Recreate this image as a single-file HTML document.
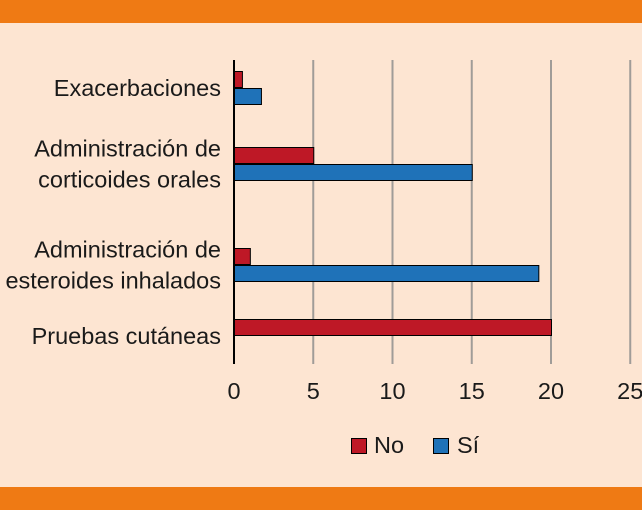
<!DOCTYPE html>
<html><head><meta charset="utf-8"><style>
body{margin:0;width:642px;height:510px;overflow:hidden;background:#fde5d2;font-family:"Liberation Sans",sans-serif;}
svg{display:block}
</style></head><body>
<svg width="642" height="510">
<rect x="0" y="0" width="642" height="23" fill="#ef7a14"/>
<rect x="0" y="487" width="642" height="23" fill="#ef7a14"/>
<g id="grid"></g><g id="bars"></g><g id="labels"></g>
<line x1="234" y1="60" x2="234" y2="364" stroke="#000" stroke-width="2"/>
<g>
<rect x="351.5" y="438.5" width="15" height="15" fill="#be1826" stroke="#000"/>
<text x="374" y="453" font-size="23.5" fill="#1a1a1a">No</text>
<rect x="433.5" y="438.5" width="15" height="15" fill="#1f72b8" stroke="#000"/>
<text x="457" y="453" font-size="23.5" fill="#1a1a1a">Sí</text>
</g>
</svg>
<script>
const categories=[["Exacerbaciones"],["Administración de","corticoides orales"],["Administración de","esteroides inhalados"],["Pruebas cutáneas"]];
const noValues=[0.5,5,1,20];
const siValues=[1.7,15,19.2,0];
const ticks=[0,5,10,15,20,25];
const groupCenters=[88,164,265,336];
const x0=234, unit=15.85;
const xs=v=>x0+v*unit;
const NS="http://www.w3.org/2000/svg";
function mk(t,a,p){const e=document.createElementNS(NS,t);for(const k in a)e.setAttribute(k,a[k]);p.appendChild(e);return e;}
const grid=document.getElementById('grid'),bars=document.getElementById('bars'),labels=document.getElementById('labels');
ticks.forEach(t=>{
  if(t>0){const l=mk('line',{x1:xs(t),x2:xs(t),y1:60,y2:364,stroke:'#a09c98','stroke-width':2},grid);
  
  }
  const tx=mk('text',{x:xs(t),y:399,'font-size':23.5,'text-anchor':'middle',fill:'#1a1a1a'},labels);
  tx.textContent=t;
  
  
});
categories.forEach((c,i)=>{
  const cy=groupCenters[i];
  if(noValues[i]>0){const r=mk('rect',{x:x0+0.5,y:cy-16.5,width:xs(noValues[i])-x0,height:16,fill:'#be1826',stroke:'#000','stroke-width':1},bars);
  
  }
  if(siValues[i]>0){const r=mk('rect',{x:x0+0.5,y:cy+0.5,width:xs(siValues[i])-x0,height:16,fill:'#1f72b8',stroke:'#000','stroke-width':1},bars);
  
  }
  const n=c.length;
  c.forEach((line,j)=>{
    const t=mk('text',{x:221,y:cy+8+(j-(n-1)/2)*31,'font-size':23.5,'text-anchor':'end',fill:'#1a1a1a'},labels);
    t.textContent=line;
    
    
  });
});
</script>
</body></html>
